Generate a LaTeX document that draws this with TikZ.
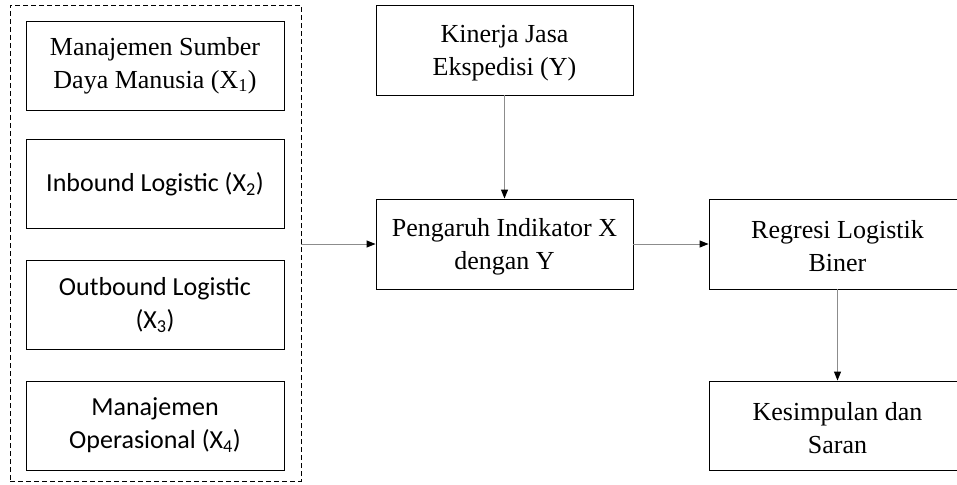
\documentclass[tikz,border=0pt]{standalone}
\usepackage{fontspec}
\usepackage{xcolor}
\usepackage{tikz}
\usetikzlibrary{arrows.meta, positioning, shapes}
\setmainfont{Liberation Serif}
\newfontfamily\calibri{Carlito}
\definecolor{linegray}{HTML}{8c8c8c}

\begin{document}
\begin{tikzpicture}[x=1pt, y=-1pt,
    box/.style={draw=black, line width=0.9pt, minimum width=258pt, minimum height=89pt,
        align=center, inner sep=0pt, font=\fontsize{26}{33}\selectfont},
    sbox/.style={box, font=\calibri\fontsize{26}{33}\selectfont},
    link/.style={linegray, line width=1pt, -{Triangle[length=9pt, width=7pt, black]}}]
    \useasboundingbox (0,0) rectangle (957,484);

    % variabel X
    \node[draw=black, dashed, line width=0.9pt, dash pattern=on 5pt off 3pt,
        minimum width=291pt, minimum height=476pt] (grp) at (155.5,243) {};
    \node[box] (x1) at (155,65.5) {Manajemen Sumber\\Daya Manusia (X\textsubscript{1})};
    \node[sbox] (x2) at (155,184) {Inbound Logistic (X\textsubscript{2})};
    \node[sbox] (x3) at (155,305) {Outbound Logistic\\(X\textsubscript{3})};
    \node[sbox] (x4) at (155,425.5) {Manajemen\\Operasional (X\textsubscript{4})};

    % alur
    \node[box, minimum width=257pt, minimum height=90pt] (y) at (504.5,50) {\strut Kinerja Jasa\\Ekspedisi (Y)};
    \node[box, minimum width=257pt, minimum height=90pt] (peng) at (504.5,244) {\strut Pengaruh Indikator X\\dengan Y};
    \node[box, minimum width=257pt, minimum height=90pt] (reg) at (837.5,244) {\strut Regresi Logistik\\Biner};
    \node[box, minimum width=257pt] (kes) at (837.5,425.5) {\strut Kesimpulan dan\\Saran};

    \draw[link] (grp.east |- peng.west) -- (peng.west);
    \draw[link] (y.south) -- (peng.north);
    \draw[link] (peng.east) -- (reg.west);
    \draw[link] (reg.south) -- (kes.north);
\end{tikzpicture}
\end{document}
